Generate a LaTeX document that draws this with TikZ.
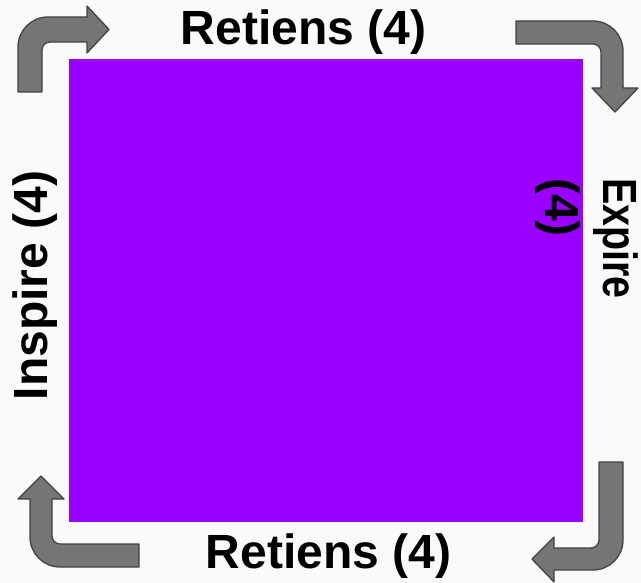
\documentclass[tikz,border=0pt]{standalone}
\usepackage{fontspec}
\usepackage{graphicx}
\setmainfont{Liberation Sans}
\definecolor{bg}{HTML}{FAFAFA}
\definecolor{sq}{HTML}{9900FF}
\definecolor{arrfill}{HTML}{757575}
\definecolor{arrline}{HTML}{424242}
\begin{document}
\begin{tikzpicture}[x=1pt,y=-1pt,
  bent/.style={fill=arrfill,draw=arrline,line width=1.3pt,line join=round},
  lbl/.style={font=\fontsize{48pt}{58pt}\selectfont\bfseries,inner sep=0pt,text=black}]
\fill[bg] (0,0) rectangle (641,583);
\useasboundingbox (0,0) rectangle (641,583);
% square
\node[fill=sq,minimum width=514pt,minimum height=463pt,inner sep=0pt,anchor=north west] (box) at (69,59) {};
% top-left arrow
\draw[bent] (18,92) -- (18,47) .. controls (18,30.4) and (31.4,17) .. (48,17) -- (87,17) -- (87,6) -- (109,29.5) -- (87,53) -- (87,42) -- (50,42) .. controls (45.6,42) and (42,45.6) .. (42,50) -- (42,92) -- cycle;
% top-right arrow
\draw[bent] (516,21) -- (593,21) .. controls (609.6,21) and (623,34.4) .. (623,51) -- (623,88) -- (638,88) -- (615,112) -- (592,88) -- (601,88) -- (601,52) .. controls (601,47.6) and (597.4,44) .. (593,44) -- (516,44) -- cycle;
% bottom-left arrow
\draw[bent] (139,544) -- (60,544) .. controls (55.6,544) and (52,540.4) .. (52,536) -- (52,499) -- (64,499) -- (41,476) -- (18,499) -- (30,499) -- (30,537) .. controls (30,553.6) and (43.4,567) .. (60,567) -- (139,567) -- cycle;
% bottom-right arrow
\draw[bent] (599,462) -- (623,462) -- (623,540) .. controls (623,556.6) and (609.6,570) .. (593,570) -- (554,570) -- (554,582) -- (532,559) -- (554,537) -- (554,548) -- (591,548) .. controls (595.4,548) and (599,544.4) .. (599,540) -- cycle;
% labels
\node[lbl,anchor=base] (top) at (303.5,45) {Retiens (4)};
\node[lbl,anchor=base] (bottom) at (328.5,568) {Retiens (4)};
\node[lbl,anchor=base,rotate=90] (left) at (47,285.5) {Inspire (4)};
\node[lbl,anchor=north west,rotate=-90,align=left] (right) at (638,178) {\scalebox{0.82}[1]{Expire}\\(4)};
\end{tikzpicture}
\end{document}
